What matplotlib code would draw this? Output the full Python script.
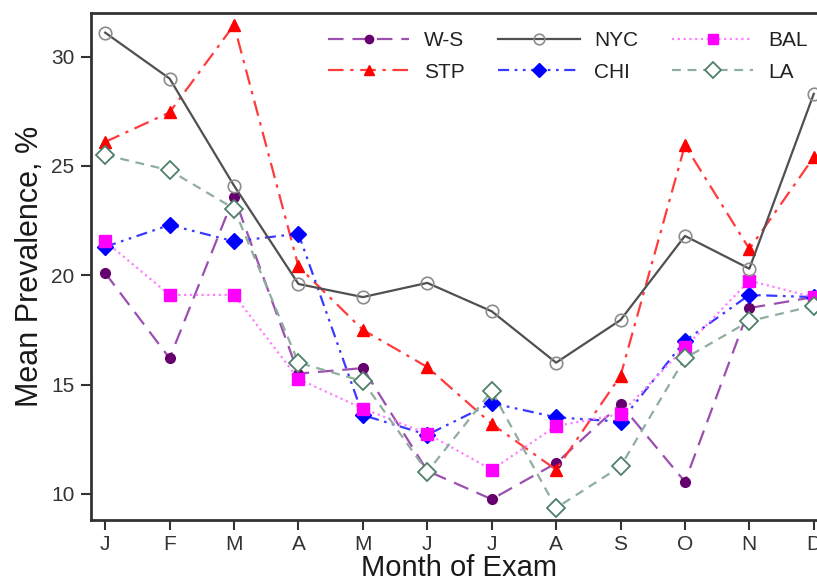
import numpy as np
import matplotlib
matplotlib.use("Agg")
import matplotlib.pyplot as plt

plt.rcParams['font.family'] = ['Liberation Sans', 'DejaVu Sans']

months = ["J", "F", "M", "A", "M", "J", "J", "A", "S", "O", "N", "D"]

ws = [20.1, 16.2, 23.6, 15.5, 15.75, 11.05, 9.75, 11.4, 14.1, 10.55, 18.5, 19.0]
nyc = [31.1, 29.0, 24.1, 19.6, 19.0, 19.65, 18.35, 16.0, 17.95, 21.8, 20.3, 28.3]
bal = [21.55, 19.1, 19.1, 15.25, 13.9, 12.75, 11.1, 13.1, 13.65, 16.7, 19.75, 19.0]
stp = [26.1, 27.45, 31.45, 20.4, 17.5, 15.8, 13.2, 11.1, 15.4, 25.95, 21.2, 25.4]
chi = [21.3, 22.3, 21.55, 21.9, 13.6, 12.7, 14.15, 13.5, 13.3, 17.0, 19.1, 19.0]
la = [25.5, 24.8, 23.05, 16.0, 15.15, 11.0, 14.7, 9.35, 11.25, 16.2, 17.9, 18.6]

x = np.arange(len(months))

fig = plt.figure(figsize=(8.17, 5.85), dpi=100)
# right part of the frame runs past the picture edge, as in the original
ax = fig.add_axes([0.1114, 0.1111, 0.902, 0.8667])

ax.plot(x, ws, color="#9b4fb0", lw=1.6, dashes=(7, 4),
        marker="o", ms=7, mfc="#66006e", mec="#66006e", label="W-S", zorder=3)
ax.plot(x, stp, color="#ff3b3b", lw=1.6, dashes=(7, 3, 1.5, 3),
        marker="^", ms=9, mfc="#ff0000", mec="#ff0000", label="STP", zorder=3)
ax.plot(x, nyc, color="#505050", lw=1.6, ls="-",
        marker="o", ms=9, mfc="none", mec="#8c8c8c", mew=1.2, label="NYC", zorder=4)
ax.plot(x, chi, color="#3a3aff", lw=1.6, dashes=(5, 2.5, 1.2, 2.5, 1.2, 2.5),
        marker="D", ms=8, mfc="#0000ff", mec="#0000ff", label="CHI", zorder=3)
ax.plot(x, bal, color="#ff80ff", lw=1.6, dashes=(1, 1.6),
        marker="s", ms=8, mfc="#ff00ff", mec="#ff00ff", label="BAL", zorder=3)
ax.plot(x, la, color="#8fae9e", lw=1.6, dashes=(4, 3),
        marker="D", ms=9, mfc="white", mec="#4f8068", mew=1.3, label="LA", zorder=3)

ax.set_xlim(-0.22, 11.22)
ax.set_ylim(8.8, 32.0)
ax.set_xticks(x)
ax.set_xticklabels(months)
ax.set_yticks([10, 15, 20, 25, 30])

for s in ax.spines.values():
    s.set_linewidth(2)
    s.set_color("#333333")

ax.tick_params(axis="both", direction="out", length=7, width=1.5,
               color="#333333", labelsize=15, labelcolor="#333333", pad=5)
ax.tick_params(axis="x", pad=4)

ax.set_xlabel("Month of Exam", fontsize=21, labelpad=0, color="#1a1a1a")
ax.set_ylabel("Mean Prevalence, %", fontsize=22, labelpad=4, color="#1a1a1a")

ax.legend(loc="upper left", bbox_to_anchor=(328 / 817, 1 - 31 / 585),
          bbox_transform=fig.transFigure, ncol=3, frameon=False,
          fontsize=15, handlelength=3.9, handletextpad=0.7,
          columnspacing=1.62, borderpad=0, borderaxespad=0,
          labelspacing=0.6, numpoints=1, labelcolor="#222222",
          markerscale=0.85)

fig.savefig("out.png", dpi=100)
